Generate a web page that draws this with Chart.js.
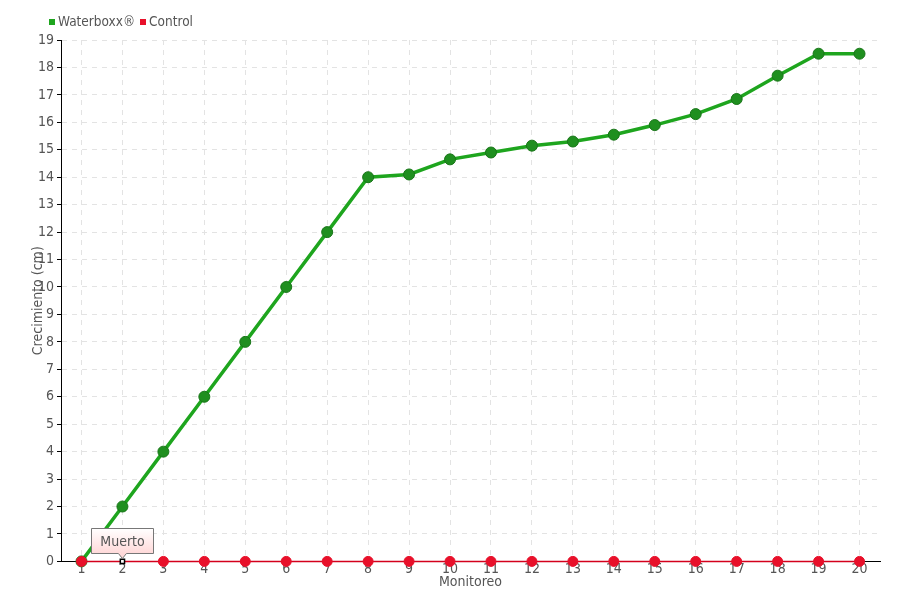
<!DOCTYPE html>
<html>
<head>
<meta charset="utf-8">
<script src="https://cdn.jsdelivr.net/npm/chart.js@4"></script>
<style>
  html, body { margin: 0; padding: 0; background: #fff; }
  #wrap { position: relative; width: 900px; height: 600px; }
  #legend { position: absolute; left: 49px; top: 13px; font: 13.5px "DejaVu Sans Condensed", "Liberation Sans Narrow", sans-serif; color: #555; white-space: nowrap; }
  #legend span.box { display: inline-block; width: 6px; height: 6px; margin-right: 3px; vertical-align: 1px; }
  #legend span.item { margin-right: 5px; }
</style>
</head>
<body>
<div id="wrap">
  <canvas id="c" width="900" height="600"></canvas>
  <div id="legend"></div>
</div>
<script>
const categories = ["1","2","3","4","5","6","7","8","9","10","11","12","13","14","15","16","17","18","19","20"];
const waterboxxValues = [0, 2, 4, 6, 8, 10, 12, 14, 14.1, 14.65, 14.9, 15.15, 15.3, 15.55, 15.9, 16.3, 16.85, 17.7, 18.5, 18.5];
const controlValues = [0, 0, 0, 0, 0, 0, 0, 0, 0, 0, 0, 0, 0, 0, 0, 0, 0, 0, 0, 0];
const seriesNames = ["Waterboxx®", "Control"];
const seriesColors = ["#1ea51e", "#e8102a"];
const yTicks = [0,1,2,3,4,5,6,7,8,9,10,11,12,13,14,15,16,17,18,19];
const tooltipIndex = 1;
const tooltipText = "Muerto";

const FONT = '"DejaVu Sans Condensed", "Liberation Sans Narrow", sans-serif';

document.getElementById('legend').innerHTML = seriesNames.map((n, i) =>
  '<span class="item"><span class="box" style="background:' + seriesColors[i] + '"></span>' + n + '</span>').join('');

const tooltipPlugin = {
  id: 'staticTip',
  afterDatasetsDraw(chart) {
    const meta = chart.getDatasetMeta(1);
    const el = meta.data[tooltipIndex];
    if (!el) return;
    const ctx = chart.ctx;
    ctx.save();
    ctx.font = '14px ' + FONT;
    const tw = ctx.measureText(tooltipText).width;
    const w = Math.round(tw + 18), h = 25;
    const x0 = Math.round(el.x - w / 2) + 0.5;
    const yb = Math.round(el.y - 8) + 0.5;
    const y0 = yb - h;
    const g = ctx.createLinearGradient(0, y0, 0, yb);
    g.addColorStop(0, '#ffffff');
    g.addColorStop(1, '#ffd9d9');
    ctx.beginPath();
    ctx.moveTo(x0, y0);
    ctx.lineTo(x0 + w, y0);
    ctx.lineTo(x0 + w, yb);
    ctx.lineTo(el.x + 4, yb);
    ctx.lineTo(el.x, yb + 5);
    ctx.lineTo(el.x - 4, yb);
    ctx.lineTo(x0, yb);
    ctx.closePath();
    ctx.fillStyle = g;
    ctx.fill();
    ctx.strokeStyle = '#777';
    ctx.lineWidth = 1;
    ctx.stroke();
    ctx.fillStyle = '#555';
    ctx.textAlign = 'center';
    ctx.textBaseline = 'middle';
    ctx.fillText(tooltipText, x0 + w / 2, y0 + h / 2 + 1);
    ctx.restore();
  }
};

new Chart(document.getElementById('c'), {
  type: 'line',
  data: {
    labels: categories,
    datasets: [
      {
        label: seriesNames[0],
        data: waterboxxValues,
        borderColor: '#1ea51e',
        borderWidth: 3.5,
        backgroundColor: '#1f8f1f',
        pointBackgroundColor: '#1f8f1f',
        pointBorderColor: '#187518',
        pointBorderWidth: 1,
        pointRadius: 5.5,
        tension: 0,
        clip: false,
        order: 1
      },
      {
        label: seriesNames[1],
        data: controlValues,
        borderColor: '#d4001c',
        borderWidth: 1.5,
        pointBackgroundColor: (c) => c.dataIndex === tooltipIndex ? '#ffffff' : '#e8102a',
        pointBorderColor: (c) => c.dataIndex === tooltipIndex ? '#000000' : '#e8102a',
        pointBorderWidth: (c) => c.dataIndex === tooltipIndex ? 1.5 : 1,
        pointStyle: (c) => c.dataIndex === tooltipIndex ? 'rect' : 'circle',
        pointRadius: (c) => c.dataIndex === tooltipIndex ? 3 : 5,
        tension: 0,
        clip: false,
        order: 0
      }
    ]
  },
  options: {
    responsive: false,
    animation: false,
    events: [],
    layout: { padding: { left: 0, right: 20, top: 40, bottom: 9 } },
    plugins: {
      legend: { display: false },
      tooltip: { enabled: false }
    },
    scales: {
      x: {
        offset: true,
        grid: { color: '#e3e3e3', lineWidth: 1, drawTicks: false, offset: false },
        border: { color: '#000', width: 1, dash: [5, 5] },
        ticks: { color: '#555', font: { family: FONT, size: 14 }, padding: 0, maxRotation: 0, autoSkip: false },
        title: { display: true, text: 'Monitoreo', color: '#555', font: { family: FONT, size: 14 }, padding: { top: -4, bottom: 0 } }
      },
      y: {
        min: 0,
        max: 19,
        afterBuildTicks(scale) { scale.ticks = yTicks.map(v => ({ value: v })); },
        afterFit(scale) { scale.width = 61; },
        grid: { color: '#e3e3e3', lineWidth: 1, drawTicks: true, tickLength: 4, tickColor: '#000' },
        border: { color: '#000', width: 1, dash: [5, 5] },
        ticks: { color: '#555', font: { family: FONT, size: 14 }, padding: 3 },
        title: { display: true, text: 'Crecimiento (cm)', color: '#555', font: { family: FONT, size: 14 }, padding: { top: 30, bottom: 0 } }
      }
    }
  },
  plugins: [tooltipPlugin]
});
</script>
</body>
</html>
